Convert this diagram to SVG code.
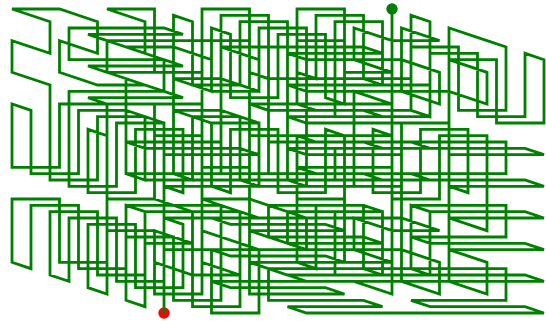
<svg xmlns="http://www.w3.org/2000/svg" width="546" height="321" viewBox="0 0 546 321">
<style>
.curve{fill:none;stroke:#008000;stroke-width:2.8}
.dot{stroke:none}
</style>
<rect width="546" height="321" fill="#ffffff"/>
<g id="node-end"><circle class="dot" cx="392" cy="9" r="5.7" fill="#008000"/></g>
<g id="node-start"><circle class="dot" cx="164" cy="313" r="5.7" fill="#ff0000"/></g>
<g id="connectors">
<polyline class="curve" points="392,9 392,72.3 344.5,72.3 344.5,9 297,9 297,72.3 316,78.7 316,15.3 363.5,15.3 363.5,78.7 411,78.7 411,15.3 430,21.7 430,85 382.5,85 382.5,21.7 335,21.7 335,85
335,116.7 430,116.7 411,110.3 316,110.3 297,104 392,104 392,135.7 297,135.7 316,142 411,142 430,148.3 335,148.3 335,180 430,180 411,173.7 316,173.7 297,167.3 392,167.3
392,199 392,262.3 344.5,262.3 344.5,199 297,199 297,262.3 316,268.7 316,205.3 363.5,205.3 363.5,268.7 411,268.7 411,205.3 430,211.7 430,275 382.5,275 382.5,211.7 335,211.7 335,275
287.5,275 249.5,262.3 249.5,230.7 287.5,243.3 287.5,211.7 249.5,199 202,199 240,211.7 240,243.3 202,230.7 202,262.3 240,275 192.5,275 154.5,262.3 154.5,230.7 192.5,243.3 192.5,211.7 154.5,199
154.5,167.3 154.5,104 202,104 202,167.3 249.5,167.3 249.5,104 268.5,110.3 268.5,173.7 221,173.7 221,110.3 173.5,110.3 173.5,173.7 192.5,180 192.5,116.7 240,116.7 240,180 287.5,180 287.5,116.7
287.5,85 287.5,21.7 240,21.7 240,85 192.5,85 192.5,21.7 173.5,15.3 173.5,78.7 221,78.7 221,15.3 268.5,15.3 268.5,78.7 249.5,72.3 249.5,9 202,9 202,72.3 154.5,72.3 154.5,9
107,9 145,21.7 145,53.3 107,40.7 107,72.3 145,85 97.5,85 59.5,72.3 59.5,40.7 97.5,53.3 97.5,21.7 59.5,9 12,9 50,21.7 50,53.3 12,40.7 12,72.3 50,85
50,116.7 50,180 97.5,180 97.5,116.7 145,116.7 145,180 126,173.7 126,110.3 78.5,110.3 78.5,173.7 31,173.7 31,110.3 12,104 12,167.3 59.5,167.3 59.5,104 107,104 107,167.3
107,199 107,262.3 59.5,262.3 59.5,199 12,199 12,262.3 31,268.7 31,205.3 78.5,205.3 78.5,268.7 126,268.7 126,205.3 145,211.7 145,275 97.5,275 97.5,211.7 50,211.7 50,275
69,281.3 69,218 116.5,218 116.5,281.3 164,281.3 164,218 183,224.3 183,287.7 135.5,287.7 135.5,224.3 88,224.3 88,287.7 107,294 107,230.7 154.5,230.7 154.5,294 202,294 202,230.7
202,199 202,135.7 154.5,135.7 154.5,199 107,199 107,135.7 88,129.3 88,192.7 135.5,192.7 135.5,129.3 183,129.3 183,192.7 164,186.3 164,123 116.5,123 116.5,186.3 69,186.3 69,123
69,91.3 164,91.3 183,97.7 88,97.7 107,104 202,104 202,72.3 107,72.3 88,66 183,66 164,59.7 69,59.7 69,28 164,28 183,34.3 88,34.3 107,40.7 202,40.7
249.5,40.7 249.5,104 297,104 297,40.7 344.5,40.7 344.5,104 325.5,97.7 325.5,34.3 278,34.3 278,97.7 230.5,97.7 230.5,34.3 211.5,28 211.5,91.3 259,91.3 259,28 306.5,28 306.5,91.3
306.5,123 306.5,186.3 259,186.3 259,123 211.5,123 211.5,186.3 230.5,192.7 230.5,129.3 278,129.3 278,192.7 325.5,192.7 325.5,129.3 344.5,135.7 344.5,199 297,199 297,135.7 249.5,135.7 249.5,199
249.5,230.7 344.5,230.7 325.5,224.3 230.5,224.3 211.5,218 306.5,218 306.5,249.7 211.5,249.7 230.5,256 325.5,256 344.5,262.3 249.5,262.3 249.5,294 344.5,294 325.5,287.7 230.5,287.7 211.5,281.3 306.5,281.3
354,281.3 392,294 392,262.3 354,249.7 354,218 392,230.7 439.5,230.7 401.5,218 401.5,249.7 439.5,262.3 439.5,294 401.5,281.3 449,281.3 487,294 487,262.3 449,249.7 449,218 487,230.7
487,199 487,135.7 439.5,135.7 439.5,199 392,199 392,135.7 373,129.3 373,192.7 420.5,192.7 420.5,129.3 468,129.3 468,192.7 449,186.3 449,123 401.5,123 401.5,186.3 354,186.3 354,123
354,91.3 392,104 392,72.3 354,59.7 354,28 392,40.7 439.5,40.7 401.5,28 401.5,59.7 439.5,72.3 439.5,104 401.5,91.3 449,91.3 487,104 487,72.3 449,59.7 449,28 487,40.7
506,47 506,110.3 458.5,110.3 458.5,47 411,47 411,110.3 430,116.7 430,53.3 477.5,53.3 477.5,116.7 525,116.7 525,53.3 544,59.7 544,123 496.5,123 496.5,59.7 449,59.7 449,123
449,154.7 544,154.7 525,148.3 430,148.3 411,142 506,142 506,173.7 411,173.7 430,180 525,180 544,186.3 449,186.3 449,218 544,218 525,211.7 430,211.7 411,205.3 506,205.3
506,237 411,237 430,243.3 525,243.3 544,249.7 449,249.7 449,281.3 544,281.3 525,275 430,275 411,268.7 506,268.7 506,300.3 411,300.3 430,306.7 525,306.7 544,313 449,313
401.5,313 306.5,313 287.5,306.7 382.5,306.7 363.5,300.3 268.5,300.3 268.5,268.7 363.5,268.7 382.5,275 287.5,275 306.5,281.3 401.5,281.3 401.5,249.7 306.5,249.7 287.5,243.3 382.5,243.3 363.5,237 268.5,237
268.5,205.3 363.5,205.3 382.5,211.7 287.5,211.7 306.5,218 401.5,218 401.5,186.3 306.5,186.3 287.5,180 382.5,180 363.5,173.7 268.5,173.7 268.5,142 363.5,142 382.5,148.3 287.5,148.3 306.5,154.7 401.5,154.7
401.5,123 306.5,123 287.5,116.7 382.5,116.7 363.5,110.3 268.5,110.3 268.5,78.7 363.5,78.7 382.5,85 287.5,85 306.5,91.3 401.5,91.3 401.5,59.7 306.5,59.7 287.5,53.3 382.5,53.3 363.5,47 268.5,47
221,47 259,59.7 259,91.3 221,78.7 221,110.3 259,123 211.5,123 173.5,110.3 173.5,78.7 211.5,91.3 211.5,59.7 173.5,47 126,47 164,59.7 164,91.3 126,78.7 126,110.3 164,123
164,154.7 259,154.7 240,148.3 145,148.3 126,142 221,142 221,173.7 126,173.7 145,180 240,180 259,186.3 164,186.3 164,218 259,218 240,211.7 145,211.7 126,205.3 221,205.3
221,237 221,300.3 173.5,300.3 173.5,237 126,237 126,300.3 145,306.7 145,243.3 192.5,243.3 192.5,306.7 240,306.7 240,243.3 259,249.7 259,313 211.5,313 211.5,249.7 164,249.7 164,313"/>
</g>
</svg>
